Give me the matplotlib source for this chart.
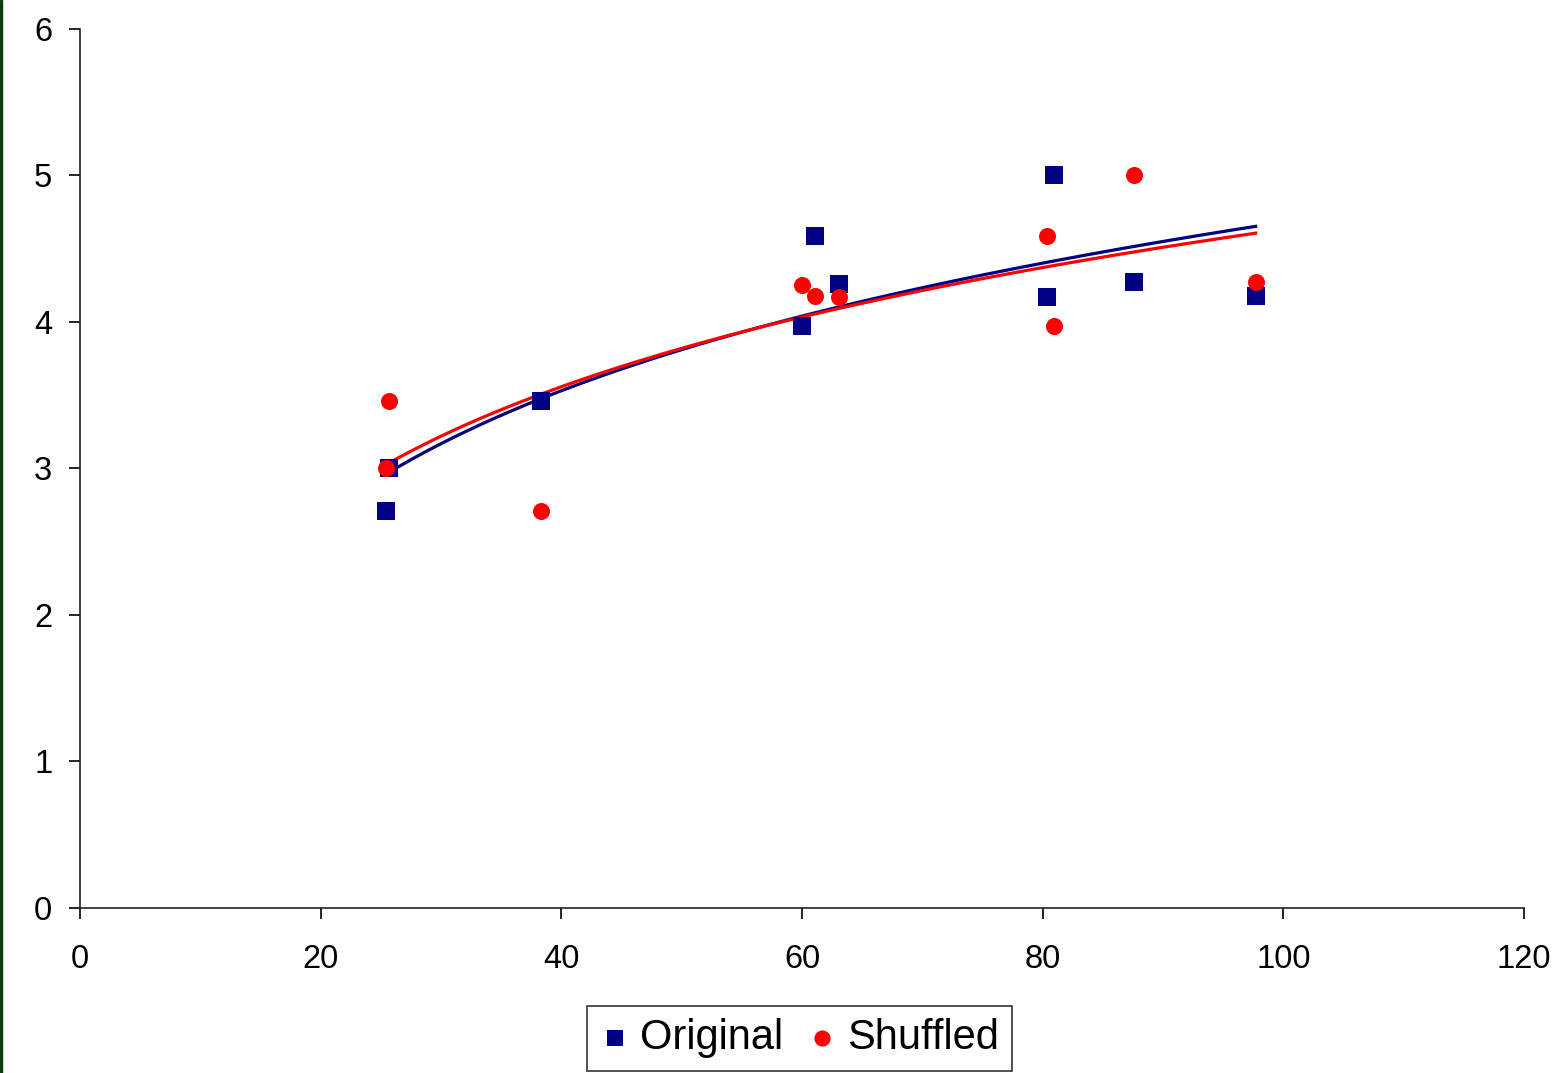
import matplotlib
matplotlib.use("Agg")
import matplotlib.pyplot as plt
import numpy as np
from matplotlib.patches import Rectangle

# Values
ORIG_X = [25.4, 25.7, 38.3, 60.0, 61.1, 63.1, 80.4, 80.9, 87.6, 97.7]
ORIG_Y = [2.71, 3.00, 3.46, 3.97, 4.59, 4.26, 4.17, 5.00, 4.27, 4.18]
SHUF_X = [25.7, 25.4, 38.3, 60.0, 61.1, 63.1, 80.4, 80.9, 87.6, 97.7]
SHUF_Y = [3.46, 3.00, 2.71, 4.25, 4.18, 4.17, 4.59, 3.97, 5.00, 4.27]

X_TICKS = [0, 20, 40, 60, 80, 100, 120]
Y_TICKS = [0, 1, 2, 3, 4, 5, 6]

NAVY = "#000080"
RED = "#FF0000"


def log_trend(x, y):
    """Excel-style logarithmic trendline y = a*ln(x) + b over the data range."""
    x = np.asarray(x)
    a, b = np.polyfit(np.log(x), np.asarray(y), 1)
    xs = np.linspace(x.min(), x.max(), 200)
    return xs, a * np.log(xs) + b


plt.rcParams["font.family"] = ["Liberation Sans", "DejaVu Sans"]

fig = plt.figure(figsize=(15.57, 10.73), dpi=100)
ax = fig.add_axes([0.0514, 0.1538, 0.9274, 0.8192])

ax.scatter(ORIG_X, ORIG_Y, marker="s", s=150, color=NAVY, linewidths=0,
           label="Original", zorder=3)
ax.scatter(SHUF_X, SHUF_Y, marker="o", s=150, color=RED, linewidths=0,
           label="Shuffled", zorder=4)

xs, ys = log_trend(ORIG_X, ORIG_Y)
ax.plot(xs, ys, color=NAVY, lw=2.3, zorder=2)
xs, ys = log_trend(SHUF_X, SHUF_Y)
ax.plot(xs, ys, color=RED, lw=2.3, zorder=2)

ax.set_xlim(0, 120)
ax.set_ylim(0, 6)
ax.set_xticks(X_TICKS)
ax.set_yticks(Y_TICKS)
ax.tick_params(labelsize=23.5, length=8, width=1.2, direction="out",
               colors="black")
ax.tick_params(axis="x", pad=18)
ax.tick_params(axis="y", pad=12)
for side in ("top", "right"):
    ax.spines[side].set_visible(False)
for side in ("left", "bottom"):
    ax.spines[side].set_linewidth(1.2)
    ax.spines[side].set_color("#222222")

leg = fig.legend(loc="center", bbox_to_anchor=(0.5135, 0.0325), ncol=2,
                 fontsize=30, frameon=True, fancybox=False, edgecolor="black",
                 handletextpad=0.25, columnspacing=0.6, borderpad=0.3,
                 handlelength=0.7, markerscale=0.95)
leg.get_frame().set_linewidth(1.2)

# dark green strip along the left edge of the image
fig.add_artist(Rectangle((0, 0), 0.0015, 1, transform=fig.transFigure,
                         color="#0B3D0B", zorder=10))

fig.savefig("out.png", dpi=100)
